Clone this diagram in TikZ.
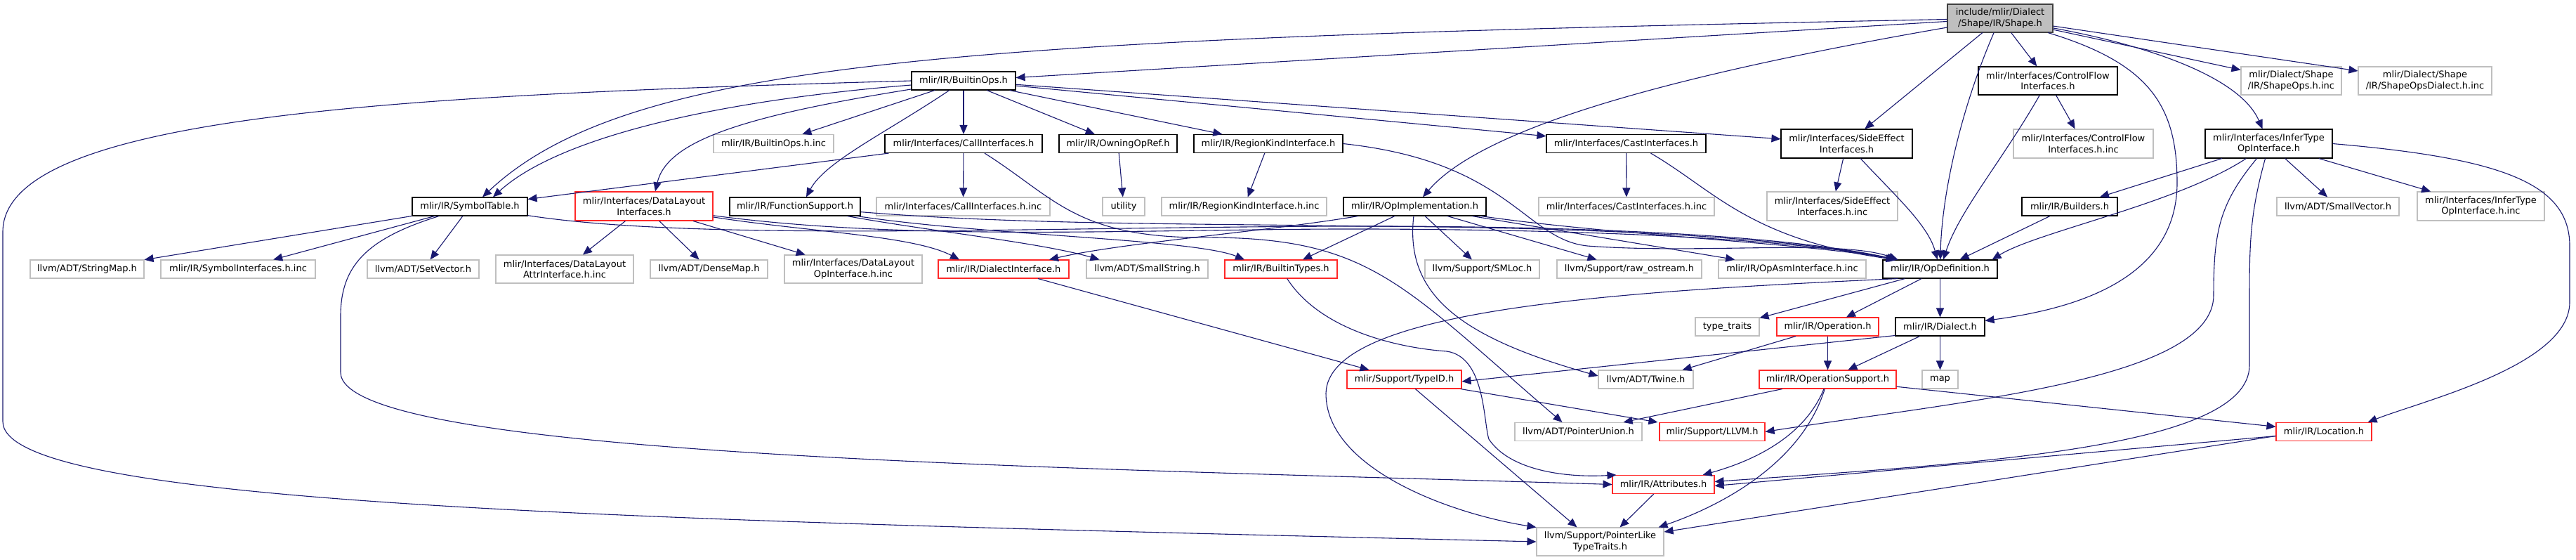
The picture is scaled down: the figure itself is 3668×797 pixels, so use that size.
\documentclass[tikz,border=0pt]{standalone}
\usepackage{fontspec}
\setmainfont{DejaVu Sans}
\usetikzlibrary{arrows.meta}
\definecolor{cEdge}{RGB}{25,25,112}
\definecolor{cGrayB}{RGB}{191,191,191}
\definecolor{cRedB}{RGB}{255,40,40}
\definecolor{cShapeFill}{RGB}{191,191,191}
\definecolor{cShapeB}{RGB}{64,64,64}
\newcommand{\fsz}{\fontsize{13pt}{15.6pt}\selectfont}
\newcommand{\mknode}[7]{\node[#1, minimum width=#5pt, minimum height=#6pt] (#2) at (#3,#4) {#7};}
\tikzset{
  nbase/.style={draw, line width=1.1pt, fill=white, inner sep=0pt, align=center, font=\fsz, text=black},
  shp/.style={nbase, draw=cShapeB, fill=cShapeFill},
  blk/.style={nbase, draw=black},
  gry/.style={nbase, draw=cGrayB},
  rdn/.style={nbase, draw=cRedB},
  edge/.style={draw=cEdge, line width=1.1pt, -{Triangle[length=13pt,width=11pt]}},
}
\begin{document}
\begin{tikzpicture}[x=1pt,y=-1pt]
\fill[white] (0,0) rectangle (3668,797);
\useasboundingbox (0,0) rectangle (3668,797);

% row 1
\mknode{shp}{shape}{2848}{26}{150}{40}{include/mlir/Dialect\\/Shape/IR/Shape.h}
% row 2
\mknode{blk}{builtinops}{1372}{115}{148}{26}{mlir/IR/BuiltinOps.h}
\mknode{blk}{cflow}{2916}{115}{198}{40}{mlir/Interfaces/ControlFlow\\Interfaces.h}
\mknode{gry}{shapeopsinc}{3262.5}{115}{143}{40}{mlir/Dialect/Shape\\/IR/ShapeOps.h.inc}
\mknode{gry}{shapedialinc}{3453}{115}{190}{40}{mlir/Dialect/Shape\\/IR/ShapeOpsDialect.h.inc}
% row 3
\mknode{gry}{builtinopsinc}{1101.5}{204.5}{171}{26}{mlir/IR/BuiltinOps.h.inc}
\mknode{blk}{callif}{1372}{204.5}{224}{26}{mlir/Interfaces/CallInterfaces.h}
\mknode{blk}{owning}{1592}{204.5}{168}{26}{mlir/IR/OwningOpRef.h}
\mknode{blk}{regionkind}{1806}{204.5}{212}{26}{mlir/IR/RegionKindInterface.h}
\mknode{blk}{castif}{2315.5}{204.5}{227}{26}{mlir/Interfaces/CastInterfaces.h}
\mknode{blk}{sideeffect}{2629.5}{204.5}{187}{41}{mlir/Interfaces/SideEffect\\Interfaces.h}
\mknode{gry}{cflowinc}{2966.5}{204.5}{199}{41}{mlir/Interfaces/ControlFlow\\Interfaces.h.inc}
\mknode{blk}{infertype}{3230.5}{204.5}{181}{41}{mlir/Interfaces/InferType\\OpInterface.h}
% row 4
\mknode{blk}{symtab}{669}{294}{164}{26}{mlir/IR/SymbolTable.h}
\mknode{rdn}{datalayout}{917}{293.5}{196}{41}{mlir/Interfaces/DataLayout\\Interfaces.h}
\mknode{blk}{funcsup}{1132}{294}{186}{26}{mlir/IR/FunctionSupport.h}
\mknode{gry}{callinc}{1371.5}{294}{247}{26}{mlir/Interfaces/CallInterfaces.h.inc}
\mknode{gry}{utility}{1600}{294}{60}{26}{utility}
\mknode{gry}{regioninc}{1771.5}{294}{235}{26}{mlir/IR/RegionKindInterface.h.inc}
\mknode{blk}{opimpl}{2014.5}{294}{203}{26}{mlir/IR/OpImplementation.h}
\mknode{gry}{castinc}{2316}{294}{250}{26}{mlir/Interfaces/CastInterfaces.h.inc}
\mknode{gry}{sideinc}{2609}{293.5}{186}{41}{mlir/Interfaces/SideEffect\\Interfaces.h.inc}
\mknode{blk}{builders}{2947}{294}{136}{26}{mlir/IR/Builders.h}
\mknode{gry}{smallvec}{3329}{294}{174}{26}{llvm/ADT/SmallVector.h}
\mknode{gry}{infertypeinc}{3532.5}{293.5}{181}{41}{mlir/Interfaces/InferType\\OpInterface.h.inc}
% row 5
\mknode{gry}{stringmap}{124}{383}{162}{26}{llvm/ADT/StringMap.h}
\mknode{gry}{symifinc}{339}{383}{220}{26}{mlir/IR/SymbolInterfaces.h.inc}
\mknode{gry}{setvector}{602.5}{383}{159}{26}{llvm/ADT/SetVector.h}
\mknode{gry}{dlattrinc}{804}{383}{196}{40}{mlir/Interfaces/DataLayout\\AttrInterface.h.inc}
\mknode{gry}{densemap}{1009.5}{383}{167}{26}{llvm/ADT/DenseMap.h}
\mknode{gry}{dlopinc}{1215}{383}{196}{40}{mlir/Interfaces/DataLayout\\OpInterface.h.inc}
\mknode{rdn}{dialectif}{1429}{383}{186}{26}{mlir/IR/DialectInterface.h}
\mknode{gry}{smallstring}{1633.5}{383}{173}{26}{llvm/ADT/SmallString.h}
\mknode{rdn}{builtintypes}{1824}{383}{160}{26}{mlir/IR/BuiltinTypes.h}
\mknode{gry}{smloc}{2110.5}{383}{163}{26}{llvm/Support/SMLoc.h}
\mknode{gry}{rawos}{2320}{383}{206}{26}{llvm/Support/raw\_ostream.h}
\mknode{gry}{opasminc}{2552}{383}{210}{26}{mlir/IR/OpAsmInterface.h.inc}
\mknode{blk}{opdef}{2762.5}{383}{163}{26}{mlir/IR/OpDefinition.h}
% row 6
\mknode{gry}{typetraits}{2459.5}{465}{91}{26}{type\_traits}
\mknode{rdn}{operation}{2602.5}{465}{145}{26}{mlir/IR/Operation.h}
\mknode{blk}{dialect}{2762.5}{465}{127}{26}{mlir/IR/Dialect.h}
% row 7
\mknode{rdn}{typeid}{1999.5}{540}{163}{26}{mlir/Support/TypeID.h}
\mknode{gry}{twine}{2343.5}{540}{135}{26}{llvm/ADT/Twine.h}
\mknode{rdn}{opsupport}{2602.5}{540}{195}{26}{mlir/IR/OperationSupport.h}
\mknode{gry}{mapn}{2762.5}{540}{51}{26}{map}
% row 8
\mknode{gry}{ptrunion}{2247.5}{614.5}{181}{26}{llvm/ADT/PointerUnion.h}
\mknode{rdn}{llvmh}{2438}{614.5}{150}{26}{mlir/Support/LLVM.h}
\mknode{rdn}{location}{3309}{614.5}{136}{26}{mlir/IR/Location.h}
% row 9, 10
\mknode{rdn}{attributes}{2368.5}{689.5}{145}{26}{mlir/IR/Attributes.h}
\mknode{gry}{ptrlike}{2278.5}{771}{181}{40}{llvm/Support/PointerLike\\TypeTraits.h}

% ---- edges from Shape.h
\draw[edge] (shape) -- (builtinops);
\draw[edge] (shape) .. controls (1400,55) and (900,80) .. ([xshift=18pt]symtab.north);
\draw[edge] (shape) .. controls (2450,95) and (2120,170) .. (opimpl);
\draw[edge] (shape) -- (sideeffect);
\draw[edge] (shape) .. controls (2790,160) and (2765,280) .. (opdef);
\draw[edge] (shape) -- (cflow);
\draw[edge] (shape) -- (shapedialinc);
\draw[edge] (shape) -- (shapeopsinc);
\draw[edge] (shape) .. controls (3060,65) and (3190,110) .. (infertype);
\draw[edge] (shape) .. controls (3060,90) and (3100,150) .. (3100,260) .. controls (3100,400) and (2950,440) .. (dialect);
% ControlFlow / SideEffect
\draw[edge] (cflow) -- (cflowinc);
\draw[edge] (cflow) .. controls (2850,230) and (2790,300) .. (opdef);
\draw[edge] (sideeffect) -- (sideinc);
\draw[edge] (sideeffect) .. controls (2700,280) and (2745,320) .. (opdef);
% InferType
\draw[edge] (infertype) -- (builders);
\draw[edge] (infertype) .. controls (3100,290) and (2900,330) .. ([xshift=-8pt]opdef.north east);
\draw[edge] (infertype) -- (smallvec);
\draw[edge] (infertype) -- (infertypeinc);
\draw[edge] (infertype.east) .. controls (3560,225) and (3659,260) .. (3659,350) -- (3659,430) .. controls (3659,520) and (3450,570) .. ([xshift=-6pt]location.north east);
\draw[edge] ([xshift=-17pt]infertype.south) .. controls (3160,290) and (3152,330) .. (3152,420) .. controls (3152,540) and (2800,570) .. (llvmh.east);
\draw[edge] ([xshift=-5pt]infertype.south) .. controls (3205,300) and (3203,340) .. (3203,420) -- (3203,520) .. controls (3203,640) and (2800,660) .. ([yshift=4pt]attributes.east);
\draw[edge] (builders) -- (opdef);
% BuiltinOps
\draw[edge] (builtinops.west) .. controls (600,135) and (4,160) .. (4,330) -- (4,600) .. controls (4,720) and (900,740) .. (ptrlike.west);
\draw[edge] (builtinops) .. controls (1000,145) and (790,200) .. ([xshift=33pt]symtab.north);
\draw[edge] (builtinops) .. controls (1060,165) and (950,200) .. ([xshift=16pt]datalayout.north);
\draw[edge] (builtinops) -- (builtinopsinc);
\draw[edge] (builtinops) .. controls (1260,190) and (1175,230) .. ([xshift=16pt]funcsup.north);
\draw[edge] (builtinops) -- (callif);
\draw[edge] (builtinops) -- (owning);
\draw[edge] (builtinops) -- (regionkind);
\draw[edge] (builtinops) -- (castif);
\draw[edge] (builtinops) -- (sideeffect);
% CallInterfaces
\draw[edge] (callif) -- (symtab);
\draw[edge] (callif) -- (callinc);
\draw[edge] ([xshift=30pt]callif.south) .. controls (1500,280) and (1530,335) .. (1700,338) .. controls (1950,335) and (1990,400) .. ([xshift=-23pt]ptrunion.north);
\draw[edge] (owning) -- (utility);
% RegionKind / Cast
\draw[edge] (regionkind) -- (regioninc);
\draw[edge] (regionkind.east) .. controls (2150,230) and (2170,340) .. (2260,350) .. controls (2420,362) and (2620,340) .. ([xshift=22pt]opdef.north west);
\draw[edge] (castif) -- (castinc);
\draw[edge] ([xshift=35pt]castif.south) .. controls (2440,270) and (2490,340) .. ([xshift=18pt]opdef.north west);
% SymbolTable
\draw[edge] (symtab) -- (stringmap);
\draw[edge] (symtab) -- (symifinc);
\draw[edge] (symtab) -- (setvector);
\draw[edge] (symtab) .. controls (520,340) and (485,380) .. (485,450) -- (485,530) .. controls (485,650) and (1500,665) .. (attributes.west);
\draw[edge] (symtab) .. controls (1000,345) and (1500,322) .. (1950,322) .. controls (2300,322) and (2560,338) .. ([xshift=20pt]opdef.north west);
% DataLayout
\draw[edge] (datalayout) -- (dlattrinc);
\draw[edge] (datalayout) -- (densemap);
\draw[edge] (datalayout) -- (dlopinc);
\draw[edge] (datalayout) .. controls (1150,330) and (1300,335) .. ([xshift=-63pt]dialectif.north);
\draw[edge] (datalayout) .. controls (1300,345) and (1650,325) .. (1950,326) .. controls (2300,327) and (2560,342) .. ([xshift=20pt]opdef.north west);
% FunctionSupport
\draw[edge] (funcsup) .. controls (1330,330) and (1480,345) .. ([xshift=-68pt]smallstring.north);
\draw[edge] (funcsup) .. controls (1400,335) and (1700,340) .. ([xshift=-52pt]builtintypes.north);
\draw[edge] (funcsup) .. controls (1450,320) and (1700,318) .. (1950,322) .. controls (2300,324) and (2560,340) .. ([xshift=20pt]opdef.north west);
% OpImplementation
\draw[edge] (opimpl) .. controls (1800,330) and (1600,345) .. ([xshift=65pt]dialectif.north);
\draw[edge] (opimpl) -- ([xshift=31pt]builtintypes.north);
\draw[edge] (opimpl) .. controls (2000,420) and (2080,480) .. ([yshift=5pt]twine.west);
\draw[edge] (opimpl) -- (smloc);
\draw[edge] (opimpl) -- (rawos);
\draw[edge] (opimpl) -- (opasminc);
\draw[edge] (opimpl) .. controls (2300,335) and (2560,345) .. ([xshift=22pt]opdef.north west);
% OpDefinition
\draw[edge] (opdef) -- (typetraits);
\draw[edge] (opdef) -- (operation);
\draw[edge] (opdef) -- (dialect);
\draw[edge] ([xshift=-60pt]opdef.south) .. controls (2300,415) and (1890,440) .. (1888,560) .. controls (1888,665) and (2060,730) .. (ptrlike.north west);
% Operation / Dialect
\draw[edge] (operation) -- (opsupport);
\draw[edge] (operation) -- ([xshift=-16pt]twine.north east);
\draw[edge] (dialect) -- (opsupport);
\draw[edge] (dialect) -- (mapn);
\draw[edge] ([yshift=-12.5pt]dialect.west) -- ([yshift=-3pt]typeid.east);
% TypeID / DialectInterface / BuiltinTypes
\draw[edge] (typeid) -- ([xshift=-2pt]llvmh.north west);
\draw[edge] (typeid) -- ([xshift=-33pt]ptrlike.north);
\draw[edge] (dialectif) -- ([xshift=-50pt]typeid.north);
\draw[edge] (builtintypes) .. controls (1880,470) and (1990,495) .. (2060,500) .. controls (2115,508) and (2112,600) .. (2120,625) .. controls (2150,670) and (2230,680) .. ([xshift=6pt]attributes.north west);
% OperationSupport
\draw[edge] (opsupport) -- ([xshift=-27pt]ptrunion.north east);
\draw[edge] (opsupport) -- (location);
\draw[edge] (opsupport) .. controls (2570,620) and (2500,655) .. ([xshift=56pt]attributes.north);
\draw[edge] (opsupport) .. controls (2565,660) and (2450,720) .. ([xshift=-8pt]ptrlike.north east);
% Location / Attributes
\draw[edge] (location) -- ([yshift=-2pt]attributes.east);
\draw[edge] ([yshift=-6pt]location.west) -- ([yshift=14pt]ptrlike.east);
\draw[edge] (attributes) -- ([xshift=28pt]ptrlike.north);
\end{tikzpicture}
\end{document}
